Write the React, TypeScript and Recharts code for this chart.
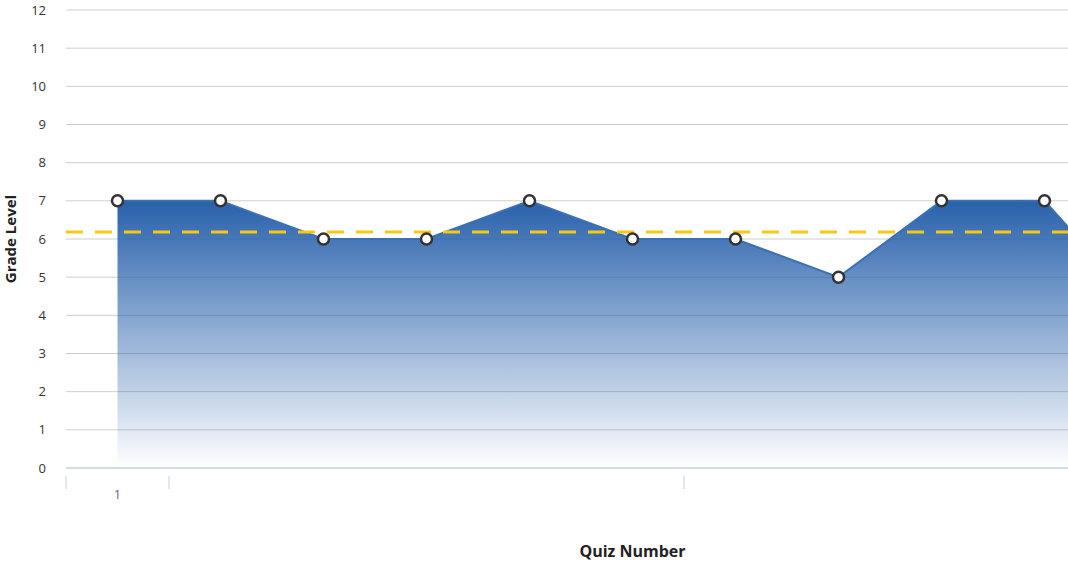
import React from 'react';
import { ComposedChart, Area, XAxis, YAxis, CartesianGrid, ReferenceLine } from 'recharts';

const quizLabels = ['1', '2', '3', '4', '5', '6', '7', '8', '9', '10', '11'];
const gradeLevels = [7, 7, 6, 6, 7, 6, 6, 5, 7, 7, 4];
const yTicks = [0, 1, 2, 3, 4, 5, 6, 7, 8, 9, 10, 11, 12];
const shownTickLabels = ['1'];
const tickBoundaryAfter = [0, 5, 10];

const data = quizLabels.map((q, i) => ({ quiz: q, grade: gradeLevels[i] }));
const mean = gradeLevels.reduce((a, b) => a + b, 0) / gradeLevels.length;

const CHART_W = 1210;
const CHART_H = 563;
const MARGIN = { top: 10, right: 11, bottom: 0, left: 0 };
const Y_W = 66;
const X_H = 95;
const PLOT_W = CHART_W - MARGIN.left - MARGIN.right - Y_W;
const BAND = PLOT_W / quizLabels.length;
const AXIS_COLOR = '#c0d0e0';
const FONT = '"Open Sans", "DejaVu Sans", sans-serif';

const XTick = (props: any) => {
  const { x, y, index, payload } = props;
  const label = payload?.value;
  const lines: number[] = [];
  if (index === 0) lines.push(x - BAND / 2);
  if (tickBoundaryAfter.includes(index)) lines.push(x + BAND / 2);
  return (
    <g>
      {lines.map((lx, i) => (
        <line key={i} x1={lx} x2={lx} y1={y} y2={y + 13} stroke={AXIS_COLOR} strokeWidth={1} />
      ))}
      {shownTickLabels.includes(label) && (
        <text x={x} y={y + 23} textAnchor="middle" fill="#5c5c78" fontSize={12} fontFamily={FONT}>
          {label}
        </text>
      )}
    </g>
  );
};

const Dot = (props: any) => {
  const { cx, cy } = props;
  if (cx == null || cy == null) return null;
  return <circle cx={cx} cy={cy} r={5.5} fill="#ffffff" stroke="#333333" strokeWidth={2.5} />;
};

export default function App() {
  return (
    <div style={{ position: 'absolute', left: 0, top: 0, width: 1068, height: 563, overflow: 'hidden', background: '#fff' }}>
      <ComposedChart width={CHART_W} height={CHART_H} data={data} margin={MARGIN}>
        <defs>
          <linearGradient id="gradeFill" x1="0" y1="0" x2="0" y2="1">
            <stop offset="0%" stopColor="#2861ab" stopOpacity={1} />
            <stop offset="100%" stopColor="#2861ab" stopOpacity={0} />
          </linearGradient>
        </defs>
        <XAxis
          dataKey="quiz"
          scale="band"
          height={X_H}
          tickLine={false}
          axisLine={{ stroke: AXIS_COLOR, strokeWidth: 1 }}
          tick={<XTick />}
          interval={0}
          label={{
            content: (p: any) => {
              const vb = p.viewBox || {};
              return (
                <text x={vb.x + vb.width / 2} y={557} textAnchor="middle" fontWeight="bold" fontSize={16} fill="#222" fontFamily={FONT}>
                  Quiz Number
                </text>
              );
            },
          }}
        />
        <YAxis
          width={Y_W}
          domain={[0, 12]}
          ticks={yTicks}
          interval={0}
          tickLine={false}
          axisLine={false}
          tickSize={0}
          tickMargin={20}
          tick={{ fill: '#333', fontSize: 13, fontFamily: FONT }}
          label={{
            content: (p: any) => {
              const vb = p.viewBox || {};
              const cy = vb.y + vb.height / 2;
              return (
                <text x={16} y={cy} transform={`rotate(-90 16 ${cy})`} textAnchor="middle" fontWeight="bold" fontSize={15} fill="#222" fontFamily={FONT}>
                  Grade Level
                </text>
              );
            },
          }}
        />
        <Area
          type="linear"
          dataKey="grade"
          stroke="#3b70b6"
          strokeWidth={2}
          fill="url(#gradeFill)"
          fillOpacity={1}
          baseValue={0}
          dot={<Dot />}
          activeDot={false}
          isAnimationActive={false}
        />
        <CartesianGrid vertical={false} stroke="#000" strokeOpacity={0.2} />
        <ReferenceLine y={mean} stroke="#f5c816" strokeWidth={3} strokeDasharray="17 12" />
      </ComposedChart>
    </div>
  );
}
